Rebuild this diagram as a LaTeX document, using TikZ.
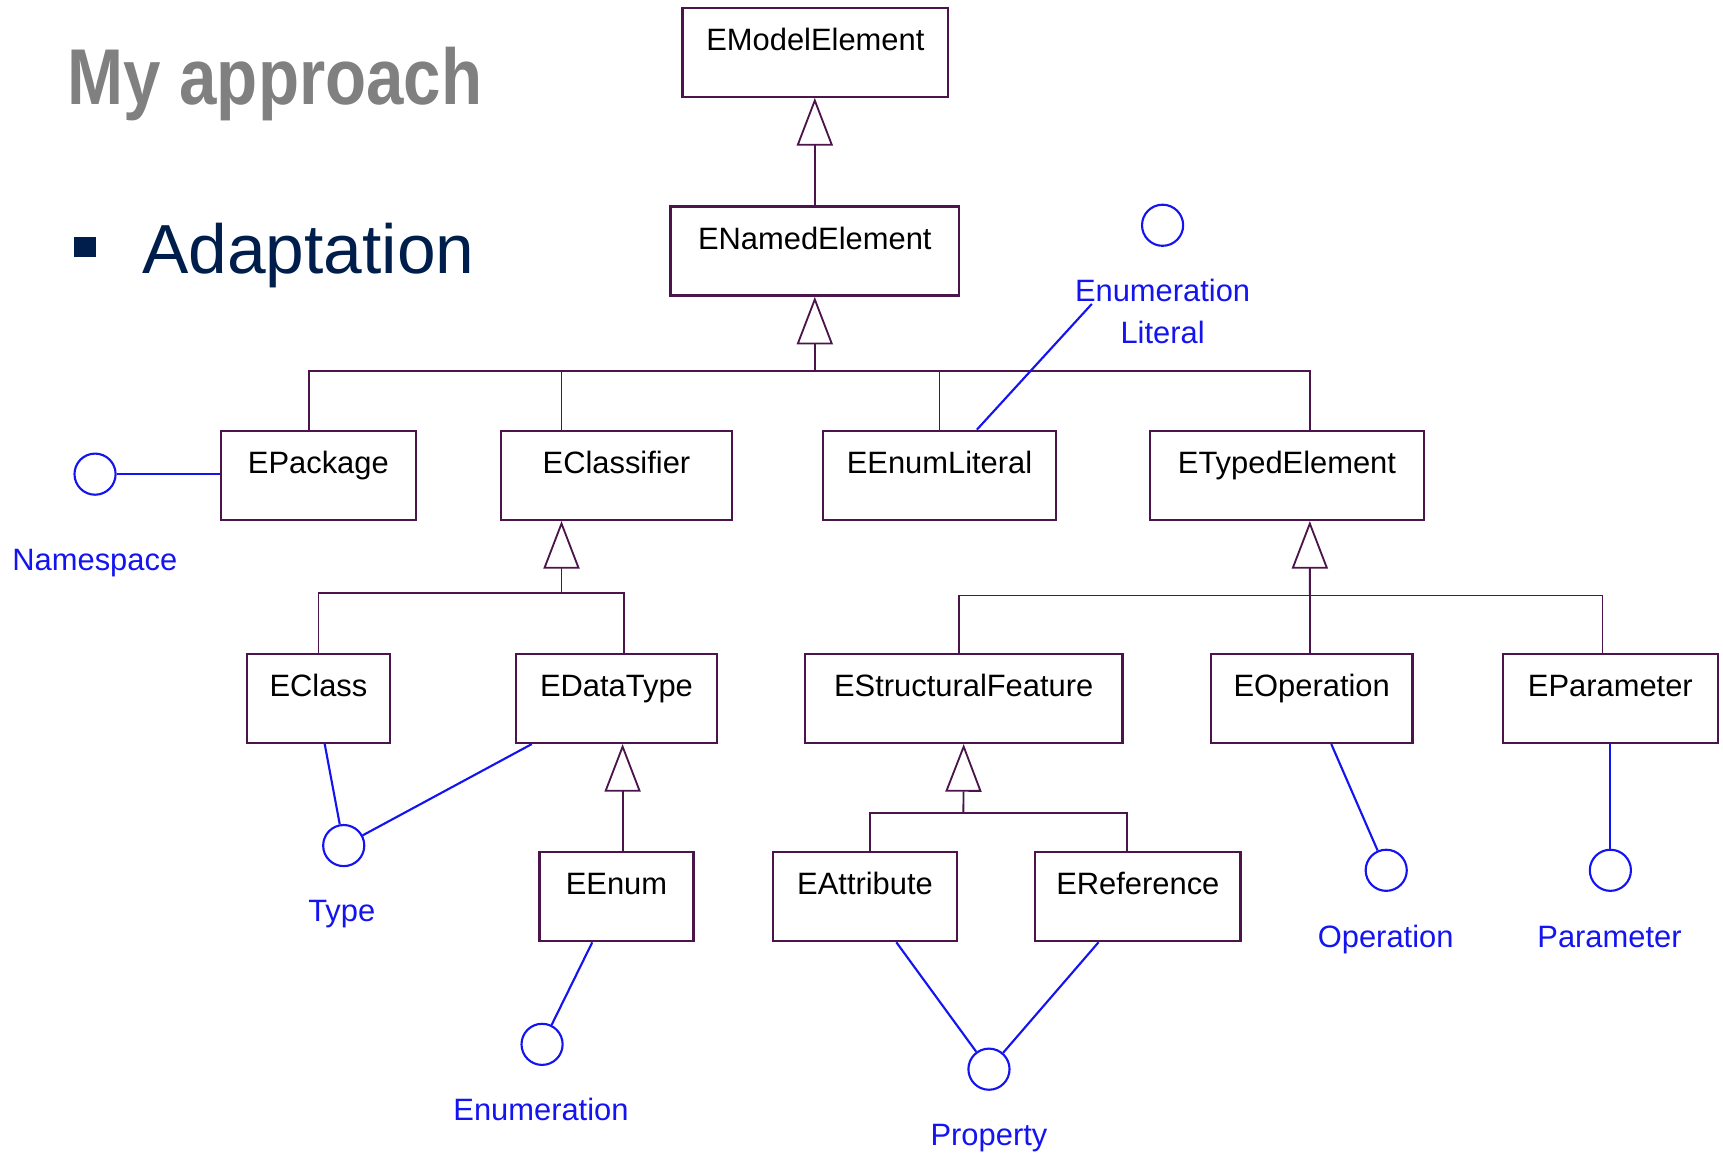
\documentclass[tikz,border=0pt]{standalone}
\usepackage{fontspec}
\setmainfont{Liberation Sans}
\newfontfamily\titlefont[FakeStretch=0.85]{Liberation Sans}
\usetikzlibrary{arrows.meta,calc}
\definecolor{boxc}{RGB}{75,20,75}
\definecolor{ifc}{RGB}{20,20,240}
\definecolor{navy}{RGB}{0,30,75}
\definecolor{titlegray}{RGB}{128,128,128}
\tikzset{
  cls/.style={draw=boxc, line width=1.2pt, minimum height=46.1pt, inner sep=0pt,
    text height=0pt, text depth=1.7pt, anchor=north, font=\fontsize{16}{19}\selectfont},
  cw/.style={minimum width=#1*0.569pt},
  gen/.style={draw=boxc, line width=0.95pt, -{Triangle[open, length=24.7pt, width=18.7pt]}},
  conn/.style={draw=boxc, line width=0.95pt},
  iface/.style={draw=ifc, line width=1.1pt},
  lolli/.style={circle, draw=ifc, line width=1.1pt, minimum size=21.3pt, inner sep=0pt},
  ilabel/.style={text=ifc, font=\fontsize{16}{19}\selectfont, anchor=base, inner sep=0pt}
}
\begin{document}
\begin{tikzpicture}[x=0.02cm, y=-0.02cm]
\useasboundingbox (0,0) rectangle (1568,1050);
% title and bullet
\node[anchor=base west, text=titlegray, font=\titlefont\bfseries\fontsize{41}{45}\selectfont, inner sep=0pt] (title) at (61,95.5) {My approach};
\node[fill=navy, minimum width=11.4pt, minimum height=10.8pt, inner sep=0pt, anchor=north west] (bullet) at (67,215) {};
\node[anchor=base west, text=navy, font=\fontsize{36}{40}\selectfont, inner sep=0pt] (adapt) at (129,249) {Adaptation};
% classes
\node[cls, cw=242] (model) at (742,6) {EModelElement};
\node[cls, cw=263] (named) at (741.5,187) {ENamedElement};
\node[cls, cw=177.5] (pkg) at (289.7,391) {EPackage};
\node[cls, cw=210] (clsf) at (561,391) {EClassifier};
\node[cls, cw=212] (elit) at (855,391) {EEnumLiteral};
\node[cls, cw=249.5] (typed) at (1171.2,391) {ETypedElement};
\node[cls, cw=130.4] (eclass) at (289.8,594) {EClass};
\node[cls, cw=183] (dtype) at (561,594) {EDataType};
\node[cls, cw=289] (sfeat) at (877,594) {EStructuralFeature};
\node[cls, cw=183.5] (eop) at (1193.7,594) {EOperation};
\node[cls, cw=195.7] (epar) at (1465.5,594) {EParameter};
\node[cls, cw=140] (eenum) at (561,774.4) {EEnum};
\node[cls, cw=167.6] (eattr) at (787.2,774.4) {EAttribute};
\node[cls, cw=187] (eref) at (1035.5,774.4) {EReference};
% generalizations
\draw[gen] (named.north) -- (named.north |- model.south);
\coordinate (j1) at (741.5,338);
\draw[gen] (j1) -- (named.south);
\draw[conn] ($(pkg.north)+(-8.7,0)$) |- (j1);
\draw[conn] ($(clsf.north)+(-50,0)$) |- (j1);
\draw[conn] (elit.north) |- (j1);
\draw[conn] ($(typed.north)+(20.8,0)$) |- (j1);
\coordinate (j2) at (511,540);
\draw[gen] (j2) -- ($(clsf.south)+(-50,0)$);
\draw[conn] (eclass.north) |- (j2);
\draw[conn] ($(dtype.north)+(7,0)$) |- (j2);
\coordinate (j3) at (1192,542);
\draw[gen] (j3) -- ($(typed.south)+(20.8,0)$);
\draw[conn] ($(sfeat.north)+(-4.3,0)$) |- (j3);
\draw[conn] ($(eop.north)+(-1.5,0)$) |- (j3);
\draw[conn] ($(epar.north)+(-7.2,0)$) |- (j3);
\draw[gen] ($(eenum.north)+(5.6,0)$) -- ($(dtype.south)+(5.6,0)$);
\coordinate (j4) at (876.7,739.5);
\draw[gen] (j4) -- (sfeat.south);
\draw[conn] ($(eattr.north)+(4.5,0)$) |- (j4);
\draw[conn] ($(eref.north)+(-9.7,0)$) |- (j4);
% interfaces
\node[lolli] (ns) at (86.5,431.5) {};
\node[ilabel] (nslbl) at (86.3,519) {Namespace};
\draw[iface] (ns.east) -- (ns.east -| pkg.west);
\node[lolli] (elc) at (1058,205) {};
\node[ilabel] (ellbl1) at (1058,274.5) {Enumeration};
\node[ilabel] (ellbl2) at (1058,312.4) {Literal};
\coordinate (elend) at (993.6,276.6);
\draw[iface] ($(elit.north)+(34,0)$) -- (elend);
\node[lolli] (ty) at (312.8,769.5) {};
\node[ilabel] (tylbl) at (311,838.6) {Type};
\draw[iface] ($(eclass.south)+(5.7,0)$) -- (ty);
\draw[iface] ($(dtype.south)+(-77,0)$) -- (ty);
\node[lolli] (en) at (493.3,950.4) {};
\node[ilabel] (enlbl) at (492.3,1019.7) {Enumeration};
\draw[iface] ($(eenum.south)+(-22,0)$) -- (en);
\node[lolli] (pr) at (900,973) {};
\node[ilabel] (prlbl) at (900,1042) {Property};
\draw[iface] ($(eattr.south)+(28.5,0)$) -- (pr);
\draw[iface] ($(eref.south)+(-35.8,0)$) -- (pr);
\node[lolli] (op) at (1261.5,792) {};
\node[ilabel] (oplbl) at (1261,862) {Operation};
\draw[iface] ($(eop.south)+(17.8,0)$) -- (op);
\node[lolli] (pa) at (1465.5,792) {};
\node[ilabel] (palbl) at (1464.7,862) {Parameter};
\draw[iface] (epar.south) -- (pa.north);
\end{tikzpicture}
\end{document}
